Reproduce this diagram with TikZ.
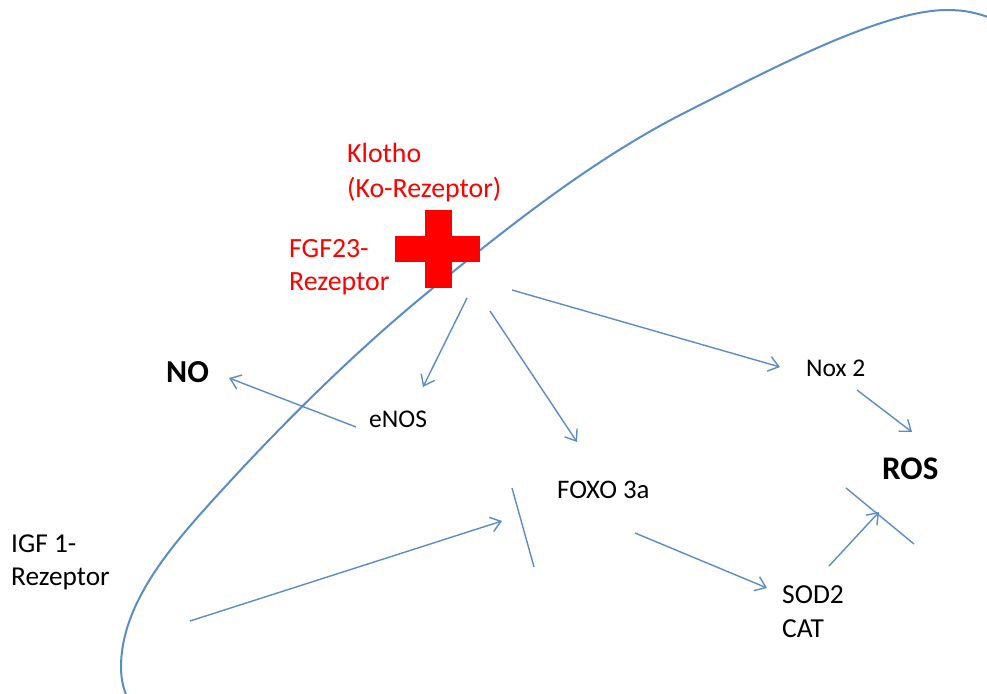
\documentclass[tikz,border=0pt]{standalone}
\usepackage{fontspec}
\setmainfont{Carlito}
\usetikzlibrary{arrows.meta}
\definecolor{lineblue}{RGB}{92,140,200}
\definecolor{ovalblue}{RGB}{92,140,200}
\definecolor{kred}{RGB}{255,0,0}
\tikzset{
  lbl/.style={anchor=base west, inner sep=0pt, font=\fontsize{#1}{30}\selectfont},
  lbl/.default=25.5,
  redlbl/.style={anchor=base west, inner sep=0pt, text=kred, font=\fontsize{27.8}{32}\selectfont},
  boldlbl/.style={anchor=base west, inner sep=0pt, font=\fontsize{#1}{36}\selectfont\bfseries},
  boldlbl/.default=32,
  arr/.style={draw=lineblue, line width=1.4pt, -{Straight Barb[length=10pt,width=15pt,line width=1.4pt]}},
  barline/.style={draw=lineblue, line width=1.4pt},
  oval/.style={draw=ovalblue, line width=2pt},
}
\begin{document}
\begin{tikzpicture}[x=1pt,y=-1pt]
\useasboundingbox (0,0) rectangle (987,693);
\begin{scope}
\clip (0,0) rectangle (987,693);
\draw[oval] (131,705) .. controls (124,693) and (121,680) .. (121,667)
  .. controls (121,604) and (170.8,546.6) .. (213,500)
  .. controls (280,426) and (355.4,351) .. (433,288)
  .. controls (513.7,222.5) and (597,156.5) .. (690,110)
  .. controls (759.7,75.1) and (880,10) .. (947,10)
  .. controls (965,10) and (980,13) .. (1000,22);
\end{scope}
% red cross
\fill[kred] (425,210) rectangle (452,288);
\fill[kred] (395,236) rectangle (480,262);
\node[redlbl] (klotho) at (347,162) {Klotho};
\node[redlbl] (kore) at (347,197) {(Ko-Rezeptor)};
\node[redlbl] (fgf) at (289,257) {FGF23-};
\node[redlbl] (fgfre) at (289,290) {Rezeptor};
% black labels
\node[boldlbl=32] (no) at (166,382) {NO};
\node[lbl=25.5] (enos) at (369,427) {eNOS};
\node[lbl=26.8] (foxo) at (557,498) {FOXO 3a};
\node[lbl=25.5] (nox) at (806,376) {Nox 2};
\node[boldlbl=33] (ros) at (882,479) {ROS};
\node[lbl=27.5] (sod) at (782,603) {SOD2};
\node[lbl=27.5] (cat) at (782,637) {CAT};
\node[lbl=27.3] (igf) at (11,552) {IGF 1-};
\node[lbl=27.3] (igfre) at (11,585) {Rezeptor};
% connector ends
\coordinate (cNoxS) at (512,290);
\coordinate (cNoxE) at (780,367);
\coordinate (cEnS) at (467,298);
\coordinate (cEnE) at (423,387);
\coordinate (cFoS) at (490,311);
\coordinate (cFoE) at (577,442);
\coordinate (eNoS) at (356,427);
\coordinate (eNoE) at (229,378);
\coordinate (nRoS) at (857,390);
\coordinate (nRoE) at (912,432);
\coordinate (fSoS) at (635,533);
\coordinate (fSoE) at (767,588);
\coordinate (sRoS) at (829,566);
\coordinate (sRoE) at (879,512);
\coordinate (rBarA) at (846,488);
\coordinate (rBarB) at (914,544);
\coordinate (iS) at (190,621);
\coordinate (iE) at (502,521);
\coordinate (fBarA) at (512,488);
\coordinate (fBarB) at (534,567);
% connectors
\draw[arr] (cNoxS) -- (cNoxE);
\draw[arr] (cEnS) -- (cEnE);
\draw[arr] (cFoS) -- (cFoE);
\draw[arr] (eNoS) -- (eNoE);
\draw[arr] (nRoS) -- (nRoE);
\draw[arr] (fSoS) -- (fSoE);
\draw[arr] (sRoS) -- (sRoE);
\draw[barline] (rBarA) -- (rBarB);
\draw[arr] (iS) -- (iE);
\draw[barline] (fBarA) -- (fBarB);
\end{tikzpicture}
\end{document}
